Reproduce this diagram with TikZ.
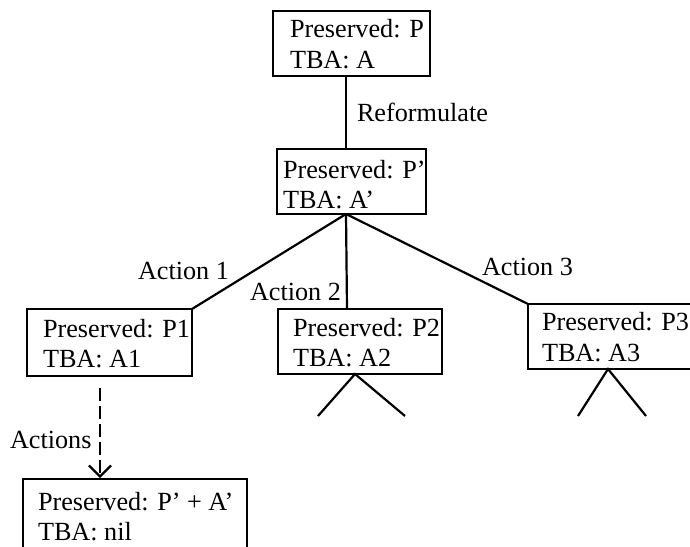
\documentclass[tikz,border=0pt]{standalone}
\usepackage{fontspec}
\setmainfont{Liberation Serif}
\usetikzlibrary{arrows.meta,calc}
\begin{document}
\begin{tikzpicture}[x=1pt,y=-1pt,
  box/.style={draw,line width=2.5pt,inner sep=0pt,outer sep=0pt,anchor=north west},
  txt/.style={anchor=base west,inner sep=0pt,outer sep=0pt,font=\fontsize{26.2}{30}\selectfont},
  conn/.style={line width=2.2pt},
  dashline/.style={dash pattern=on 13pt off 5pt}]
\clip (0,0) rectangle (690,546);
% boxes
\node[box,minimum width=157pt,minimum height=65pt] (b0) at (273,11) {};
\node[box,minimum width=149pt,minimum height=65pt] (b1) at (277,149) {};
\node[box,minimum width=165pt,minimum height=67pt] (b2) at (27,309) {};
\node[box,minimum width=164pt,minimum height=65pt] (b3) at (278,309) {};
\node[box,minimum width=175pt,minimum height=65pt] (b4) at (528,304) {};
\node[box,minimum width=224pt,minimum height=70pt] (b5) at (23,479) {};
% box texts
\node[txt] (t0a) at (290,37) {Preserved: P};
\node[txt] (t0b) at (290,68) {TBA: A};
\node[txt] (t1a) at (283,178) {Preserved: P'};
\node[txt] (t1b) at (283,208) {TBA: A'};
\node[txt] (t2a) at (43,337) {Preserved: P1};
\node[txt] (t2b) at (43,367) {TBA: A1};
\node[txt] (t3a) at (293,336) {Preserved: P2};
\node[txt] (t3b) at (293,366) {TBA: A2};
\node[txt] (t4a) at (542,330) {Preserved: P3};
\node[txt] (t4b) at (542,361) {TBA: A3};
\node[txt] (t5a) at (38,510) {Preserved: P' + A'};
\node[txt] (t5b) at (38,540) {TBA: nil};
% edge labels
\node[txt] (lref) at (357,121) {Reformulate};
\node[txt] (la1) at (138,279) {Action 1};
\node[txt] (la2) at (250,300) {Action 2};
\node[txt] (la3) at (482,275) {Action 3};
\node[txt] (las) at (10,448) {Actions};
% connectors
\coordinate (apex) at ($(b1.south west)+(69,0)$);
\draw[conn] ($(b0.south west)+(73,0)$) -- ($(b1.north west)+(69,0)$);
\draw[conn] (apex) -- (b2.north east);
\draw[conn] (apex) -- ($(b3.north west)+(69,0)$);
\draw[conn] (apex) -- (b4.north west);
\coordinate (l3a) at (318,416);
\coordinate (l3b) at (405,416);
\coordinate (l4a) at (578,416);
\coordinate (l4b) at (646,416);
\draw[conn] (l3a) -- ($(b3.south west)+(77,0)$) -- (l3b);
\draw[conn] (l4a) -- ($(b4.south west)+(80,0)$) -- (l4b);
\draw[conn,dashline,-{Straight Barb[length=11pt,width=22pt,line width=2.2pt]}]
  ($(b2.south west)+(73,12)$) -- ($(b5.north west)+(77,-1)$);
\end{tikzpicture}
\end{document}
